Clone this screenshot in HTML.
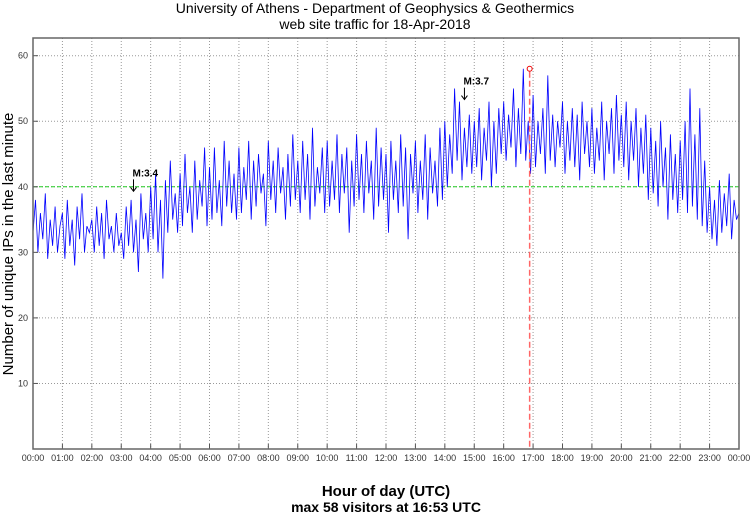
<!DOCTYPE html>
<html><head><meta charset="utf-8"><style>
body{margin:0;background:#fff;width:750px;height:515px;overflow:hidden}
text{font-family:"Liberation Sans",sans-serif}
</style></head><body>
<svg id="chart" width="750" height="515" xmlns="http://www.w3.org/2000/svg">
<text x="375" y="13" text-anchor="middle" font-size="14">University of Athens - Department of Geophysics &amp; Geothermics</text>
<text x="375" y="29" text-anchor="middle" font-size="14">web site traffic for 18-Apr-2018</text>
<text transform="translate(13,244) rotate(-90)" text-anchor="middle" font-size="15">Number of unique IPs in the last minute</text>
<text x="386" y="496" text-anchor="middle" font-size="15" font-weight="bold">Hour of day (UTC)</text>
<text x="386" y="512" text-anchor="middle" font-size="14" font-weight="bold">max 58 visitors at 16:53 UTC</text>
<g id="grid"></g><g id="marks"></g><g id="axes"></g>
</svg>
<script>
const hourLabels=["00:00","01:00","02:00","03:00","04:00","05:00","06:00","07:00","08:00","09:00","10:00","11:00","12:00","13:00","14:00","15:00","16:00","17:00","18:00","19:00","20:00","21:00","22:00","23:00","00:00"];
const yTicks=[10,20,30,40,50,60];
const thresholdValue=40;
const maxMinute=16*60+53;
const maxValue=58;
const quakes=[{label:"M:3.4",minute:205},{label:"M:3.7",minute:880}];
const stepMinutes=5;
const visitors=[
33,38,30,36,32,39,29,35,31,37,30,34,
36,29,38,31,35,28,37,32,39,30,34,33,
35,30,37,31,36,29,38,32,34,30,36,31,
33,29,37,31,38,30,35,27,39,32,36,30,
40,32,42,30,38,26,41,33,44,35,39,33,
42,34,45,36,40,33,44,35,41,37,46,34,
43,35,46,36,41,34,47,37,44,36,42,35,
46,36,43,38,47,35,44,37,45,39,42,34,
47,38,44,36,46,39,43,35,45,37,48,38,
44,36,47,38,45,35,49,37,43,39,46,36,
47,37,44,38,48,36,45,39,46,33,44,37,
48,38,45,36,47,39,44,35,49,37,46,38,
45,33,47,38,44,36,48,37,46,32,45,39,
47,36,44,38,48,35,46,39,44,37,49,38,
50,40,48,42,55,44,53,41,49,43,51,42,
50,43,52,41,49,44,53,40,50,42,52,45,
53,44,51,46,55,43,52,45,58,44,50,42,
54,43,50,45,52,42,57,44,51,43,50,46,
53,42,50,44,52,43,51,41,53,45,50,43,
52,42,49,44,53,41,50,45,52,42,54,44,
51,43,53,41,50,44,52,40,49,42,51,38,
49,39,47,37,50,40,46,35,48,38,45,36,
47,38,50,36,55,37,48,35,52,34,44,33,
40,32,38,31,41,33,39,34,42,32,38,35,36];
const L=33,R=739,T=38,B=449,YMAX=62.7;
const xs=m=>L+(R-L)*m/1440;
const ys=v=>B-(B-T)*v/YMAX;
const NS="http://www.w3.org/2000/svg";
function mk(tag,parent,attrs){const e=document.createElementNS(NS,tag);for(const k in attrs)e.setAttribute(k,attrs[k]);document.getElementById(parent).appendChild(e);return e;}
hourLabels.forEach((h,i)=>{const x=xs(i*60);
 if(i>0&&i<24){const g=mk('line','grid',{x1:x,x2:x,y1:T,y2:B,stroke:'#999','stroke-dasharray':'1,2'});
 
 }
 const tk=mk('line','axes',{x1:x,x2:x,y1:B,y2:B-5,stroke:'#555'});
 
 
 const t=mk('text','axes',{x:x,y:B+12,'text-anchor':'middle','font-size':'9',fill:'#333'});t.textContent=h;
 
 });
yTicks.forEach(v=>{const y=ys(v);
 const g=mk('line','grid',{x1:L,x2:R,y1:y,y2:y,stroke:'#999','stroke-dasharray':'1,2'});
 
 
 const tk=mk('line','axes',{x1:L,x2:L+5,y1:y,y2:y,stroke:'#555'});
 
 
 const t=mk('text','axes',{x:L-5,y:y+3,'text-anchor':'end','font-size':'9',fill:'#333'});t.textContent=v;
 
 });
const fr=mk('rect','axes',{x:L,y:T,width:R-L,height:B-T,fill:'none',stroke:'#666','stroke-width':'1.5'});


const th=mk('line','marks',{x1:L,x2:R,y1:ys(thresholdValue),y2:ys(thresholdValue),stroke:'#2c2','stroke-dasharray':'4,2'});


const pts=visitors.map((v,i)=>xs(i*stepMinutes).toFixed(1)+','+ys(v).toFixed(1)).join(' ');
const ln=mk('polyline','marks',{points:pts,fill:'none',stroke:'#00f','stroke-width':'0.8'});


const ml=mk('line','marks',{x1:xs(maxMinute),x2:xs(maxMinute),y1:ys(maxValue)+3,y2:B,stroke:'#f66','stroke-dasharray':'6,3','stroke-width':'1.5'});


const mc=mk('circle','marks',{cx:xs(maxMinute),cy:ys(maxValue),r:2.5,fill:'none',stroke:'#e00'});


quakes.forEach(q=>{const x=xs(q.minute);
 const c=Math.round(q.minute/stepMinutes);
 const loc=Math.max(...visitors.slice(Math.max(0,c-3),c+4));
 const yA=ys(loc)-2;
 const a=mk('path','marks',{d:`M${x},${yA-12}L${x},${yA}M${x-3},${yA-4}L${x},${yA}L${x+3},${yA-4}`,stroke:'#000',fill:'none'});
 
 
 const t=mk('text','marks',{x:x-1,y:yA-15,'font-size':'10','font-weight':'bold'});t.textContent=q.label;
 
 });
</script>
</body></html>
